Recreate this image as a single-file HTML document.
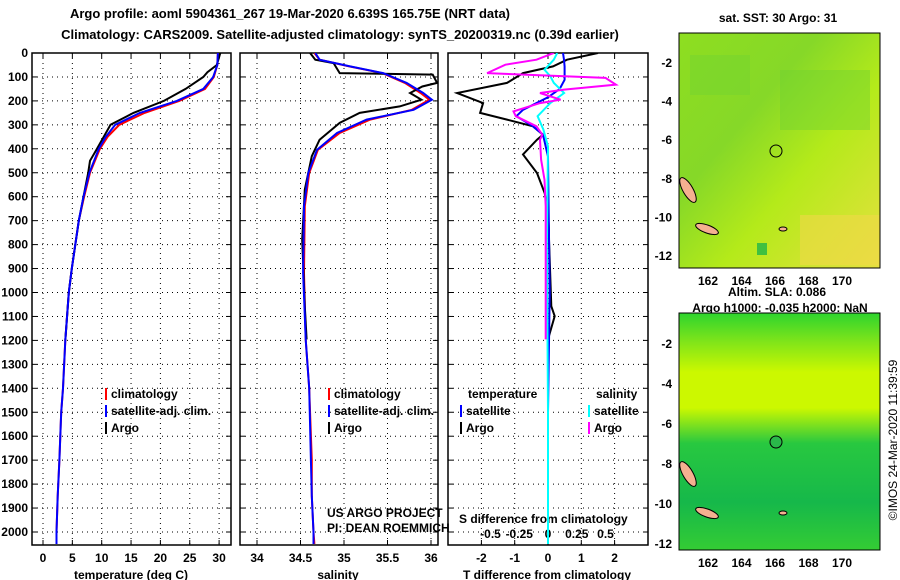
<!DOCTYPE html>
<html><head><meta charset="utf-8"><style>
body{margin:0;background:#fff}
svg{display:block;font-family:"Liberation Sans",sans-serif}
.b{font-weight:bold;font-size:12px}
.t{font-weight:bold;font-size:13px}
</style></head><body>
<svg id="s" width="900" height="580" viewBox="0 0 900 580">
<defs>
<linearGradient id="g1" x1="0" y1="0" x2="1" y2="1">
<stop offset="0" stop-color="#8ede20"/><stop offset="0.35" stop-color="#86d828"/><stop offset="0.6" stop-color="#b4ea1a"/><stop offset="1" stop-color="#e6e040"/></linearGradient>
<linearGradient id="g2" x1="0" y1="0" x2="0" y2="1">
<stop offset="0" stop-color="#2ed42e"/><stop offset="0.12" stop-color="#7fe41a"/><stop offset="0.25" stop-color="#ccf800"/><stop offset="0.4" stop-color="#ccf800"/><stop offset="0.55" stop-color="#28c840"/><stop offset="0.8" stop-color="#16b84a"/><stop offset="1" stop-color="#34cc34"/></linearGradient>
<clipPath id="c1"><rect x="32" y="53" width="199" height="492"/></clipPath>
<clipPath id="c2"><rect x="240" y="53" width="198" height="492"/></clipPath>
<clipPath id="c3"><rect x="448" y="53" width="200" height="492"/></clipPath>
</defs>
<text x="290" y="18" text-anchor="middle" class="t">Argo profile: aoml 5904361_267 19-Mar-2020 6.639S 165.75E (NRT data)</text>
<text x="340" y="39" text-anchor="middle" class="t">Climatology: CARS2009. Satellite-adjusted climatology: synTS_20200319.nc (0.39d earlier)</text>
<g id="plots"></g>
<g>
<text x="778" y="22" text-anchor="middle" class="b">sat. SST: 30 Argo: 31</text>
<rect x="679" y="33" width="201" height="235" fill="url(#g1)"/>
<rect x="690" y="55" width="60" height="40" fill="#74d430" opacity="0.5"/>
<rect x="780" y="70" width="90" height="60" fill="#6ed232" opacity="0.45"/>
<rect x="800" y="215" width="80" height="50" fill="#f0d848" opacity="0.6"/>
<rect x="757" y="243" width="10" height="12" fill="#40c040"/>
<circle cx="776" cy="151" r="6" fill="none" stroke="#000"/>
<ellipse cx="688" cy="190" rx="5" ry="14" transform="rotate(-30 688 190)" fill="#f4b090" stroke="#000"/>
<ellipse cx="707" cy="229" rx="12" ry="4" transform="rotate(20 707 229)" fill="#f4b090" stroke="#000"/>
<ellipse cx="783" cy="229" rx="4" ry="2" fill="#f4b090" stroke="#000"/>
<rect x="679" y="33" width="201" height="235" fill="none" stroke="#000"/>
</g>
<g>
<text x="728" y="296" class="b">Altim. SLA: 0.086</text>
<text x="780" y="312" text-anchor="middle" class="b">Argo h1000: -0.035 h2000: NaN</text>
<rect x="679" y="313" width="201" height="237" fill="url(#g2)"/>
<circle cx="776" cy="442" r="6" fill="#2ab84a" stroke="#000"/>
<ellipse cx="688" cy="474" rx="5" ry="14" transform="rotate(-30 688 474)" fill="#f4b090" stroke="#000"/>
<ellipse cx="707" cy="513" rx="12" ry="4" transform="rotate(20 707 513)" fill="#f4b090" stroke="#000"/>
<ellipse cx="783" cy="513" rx="4" ry="2" fill="#f4b090" stroke="#000"/>
<rect x="679" y="313" width="201" height="237" fill="none" stroke="#000"/>
</g>
<text transform="translate(897,440) rotate(-90)" text-anchor="middle" font-size="12">©IMOS 24-Mar-2020 11:39:59</text>
</svg>
<script>
const depthTicks=[0,100,200,300,400,500,600,700,800,900,1000,1100,1200,1300,1400,1500,1600,1700,1800,1900,2000];
const tempTicks=[0,5,10,15,20,25,30];
const salTicks=[34,34.5,35,35.5,36];
const salTickLabels=["34","34.5","35","35.5","36"];
const tdTicks=[-2,-1,0,1,2];
const sdTicks=[-0.5,-0.25,0,0.25,0.5];
const sdTickLabels=["-0.5","-0.25","0","0.25","0.5"];
const climDepth=[0,50,100,150,200,250,300,350,400,500,600,700,800,900,1000,1200,1400,1500,1700,1850,2000,2050];
const tempClim=[29.8,29.7,29.1,27.6,23.2,17.3,13.0,11.0,9.7,8.0,7.0,6.1,5.5,4.9,4.4,3.8,3.4,3.1,2.8,2.5,2.3,2.3];
const tempSat=[29.8,29.7,29.0,27.3,22.8,16.5,12.3,10.7,9.5,7.9,6.9,6.1,5.5,4.9,4.4,3.8,3.4,3.1,2.8,2.5,2.3,2.3];
const argoDepth=[0,50,80,100,150,200,250,300,400,450,500,600,700,800,900,1000,1200];
const tempArgo=[30.2,29.6,28.0,27.3,24.3,20.6,15.4,11.5,9.2,8.0,7.7,6.9,6.1,5.5,4.9,4.4,3.8];
const salDepth=[0,28,56,84,125,167,195,237,278,334,404,501,640,918,1196,1400,1700,1850,2000,2050];
const salSat=[34.67,34.72,35.07,35.45,35.72,35.91,36.01,35.8,35.26,34.92,34.69,34.59,34.54,34.53,34.56,34.6,34.62,34.63,34.65,34.65];
const salClim=[34.66,34.72,35.06,35.44,35.7,35.88,35.98,35.78,35.3,34.95,34.7,34.6,34.55,34.54,34.56,34.6,34.63,34.63,34.65,34.66];
const salArgoDepth=[0,28,42,84,90,125,140,167,195,223,250,292,362,431,570,779,1057,1196];
const salArgo=[34.61,34.67,34.88,34.95,36.02,36.07,35.9,35.76,35.89,35.64,35.18,34.95,34.72,34.63,34.55,34.52,34.55,34.57];
const tdArgoDepth=[0,28,56,84,125,167,209,250,278,306,341,362,424,501,585,668,738,779,1057,1099,1196];
const tdArgo=[1.5,0.57,0.15,-0.75,-1.23,-2.73,-1.95,-2.04,-1.23,-0.45,-0.15,-0.33,-0.75,-0.33,-0.1,0,0.03,0.03,0.1,0.2,0];
const tdSatDepth=[0,28,56,112,150,185,237,264,306,341,432,1000,1500,2050];
const tdSat=[0.45,0.48,0.5,0.5,0.35,0,-0.75,-0.95,-0.45,-0.15,0,0.05,0,0];
const sdSatDepth=[0,28,70,97,125,167,209,264,320,390,800,1500,2050];
const sdSat=[0.08,0.05,-0.03,0.02,0.05,0.14,0.02,-0.09,-0.04,0,-0.01,0,0];
const sdArgoDepth=[0,28,49,84,104,132,153,167,195,209,244,264,306,341,362,445,529,640,1196];
const sdArgo=[0.05,-0.1,-0.37,-0.53,0.5,0.59,0.14,-0.07,0.11,-0.07,-0.3,-0.28,-0.1,-0.05,-0.07,-0.06,-0.03,-0.02,-0.02];
const latTicks=[-2,-4,-6,-8,-10,-12];
const lonTicks=[162,164,166,168,170];
const yD=d=>53+d*0.2395;
const xT=t=>43+t*5.87;
const xS=s=>257+(s-34)*87;
const xTD=v=>548+v*33.3;
const xSD=v=>548+v*115;
const NS='http://www.w3.org/2000/svg';
const G=document.getElementById('plots');
function mk(tag,attrs,parent){const e=document.createElementNS(NS,tag);for(const k in attrs)e.setAttribute(k,attrs[k]);(parent||G).appendChild(e);return e;}
function line(xs,ds,fx,color,clip,name){
 const pts=xs.map((v,i)=>fx(v).toFixed(1)+','+yD(ds[i]).toFixed(1)).join(' ');
 const p=mk('polyline',{points:pts,fill:'none',stroke:color,'stroke-width':2,'clip-path':'url(#'+clip+')'});
 
 
}
function txt(x,y,s,anchor,cls,name){const t=mk('text',{x:x,y:y,'text-anchor':anchor||'start',class:cls||'b'});t.textContent=s;
 
 return t;}
function panel(x0,x1,gx,clip,name){
 const g=mk('g',{});
 
 
 depthTicks.forEach(d=>{if(d>0)mk('line',{x1:x0,x2:x1,y1:yD(d),y2:yD(d),stroke:'#000','stroke-dasharray':'1,4'},g);
  mk('line',{x1:x0,x2:x0+5,y1:yD(d),y2:yD(d),stroke:'#000'},g);mk('line',{x1:x1-5,x2:x1,y1:yD(d),y2:yD(d),stroke:'#000'},g);});
 gx.forEach(x=>{mk('line',{x1:x,x2:x,y1:53,y2:545,stroke:'#000','stroke-dasharray':'1,4'},g);
  mk('line',{x1:x,x2:x,y1:545,y2:540,stroke:'#000'},g);mk('line',{x1:x,x2:x,y1:53,y2:58,stroke:'#000'},g);});
 mk('rect',{x:x0,y:53,width:x1-x0,height:492,fill:'none',stroke:'#000','stroke-width':1.5},g);
}
panel(32,231,tempTicks.map(xT),'c1','temperature-panel');
panel(240,438,salTicks.map(xS),'c2','salinity-panel');
panel(448,648,tdTicks.map(xTD),'c3','difference-panel');
depthTicks.forEach(d=>txt(28,yD(d)+4,String(d),'end','b','depth-tick'));
tempTicks.forEach(t=>txt(xT(t),562,String(t),'middle','b','temp-tick'));
salTicks.forEach((s,i)=>txt(xS(s),562,salTickLabels[i],'middle','b','salinity-tick'));
tdTicks.forEach(t=>txt(xTD(t),562,String(t),'middle','b','tdiff-tick'));
sdTicks.forEach((s,i)=>txt(xSD(s),538,sdTickLabels[i],'middle','b','sdiff-tick'));
txt(131,579,'temperature (deg C)','middle','b','temp-axis-title');
txt(338,579,'salinity','middle','b','salinity-axis-title');
txt(547,579,'T difference from climatology','middle','b','tdiff-axis-title');
txt(459,523,'S difference from climatology','start','b','sdiff-axis-title');
line(tempClim,climDepth,xT,'#f00','c1','temp-climatology-line');
line(tempArgo,argoDepth,xT,'#000','c1','temp-argo-line');
line(tempSat,climDepth,xT,'#00f','c1','temp-satellite-line');
line(salClim,salDepth,xS,'#f00','c2','sal-climatology-line');
line(salArgo,salArgoDepth,xS,'#000','c2','sal-argo-line');
line(salSat,salDepth,xS,'#00f','c2','sal-satellite-line');
line(tdArgo,tdArgoDepth,xTD,'#000','c3','tdiff-argo-line');
line(tdSat,tdSatDepth,xTD,'#00f','c3','tdiff-satellite-line');
line(sdSat,sdSatDepth,xSD,'#0ff','c3','sdiff-satellite-line');
line(sdArgo,sdArgoDepth,xSD,'#f0f','c3','sdiff-argo-line');
function leg(x,y,c,s,name){mk('line',{x1:x,x2:x,y1:y-10,y2:y+2,stroke:c,'stroke-width':2});txt(x+5,y,s,'start','b',name);}
leg(106,398,'#f00','climatology','legend-climatology');
leg(106,415,'#00f','satellite-adj. clim.','legend-satellite');
leg(106,432,'#000','Argo','legend-argo');
leg(329,398,'#f00','climatology','legend-climatology-2');
leg(329,415,'#00f','satellite-adj. clim.','legend-satellite-2');
leg(329,432,'#000','Argo','legend-argo-2');
txt(468,398,'temperature','start','b','legend-temperature-heading');
txt(596,398,'salinity','start','b','legend-salinity-heading');
leg(461,415,'#00f','satellite','legend-t-satellite');
leg(461,432,'#000','Argo','legend-t-argo');
leg(589,415,'#0ff','satellite','legend-s-satellite');
leg(589,432,'#f0f','Argo','legend-s-argo');
const a=txt(327,517,'US ARGO PROJECT','start','','credit-line-1');a.setAttribute('font-size','12');
const b=txt(327,532,'PI: DEAN ROEMMICH','start','','credit-line-2');b.setAttribute('font-size','12');
const yLat1=l=>62+(-2-l)*19.3, yLat2=l=>343+(-2-l)*20;
const xLon=l=>708+(l-162)*16.75;
latTicks.forEach(l=>{txt(672,yLat1(l)+5,String(l),'end','b','lat-tick');txt(672,yLat2(l)+5,String(l),'end','b','lat-tick');});
lonTicks.forEach(l=>{txt(xLon(l),285,String(l),'middle','b','lon-tick');txt(xLon(l),567,String(l),'middle','b','lon-tick');});
</script>
</body></html>
